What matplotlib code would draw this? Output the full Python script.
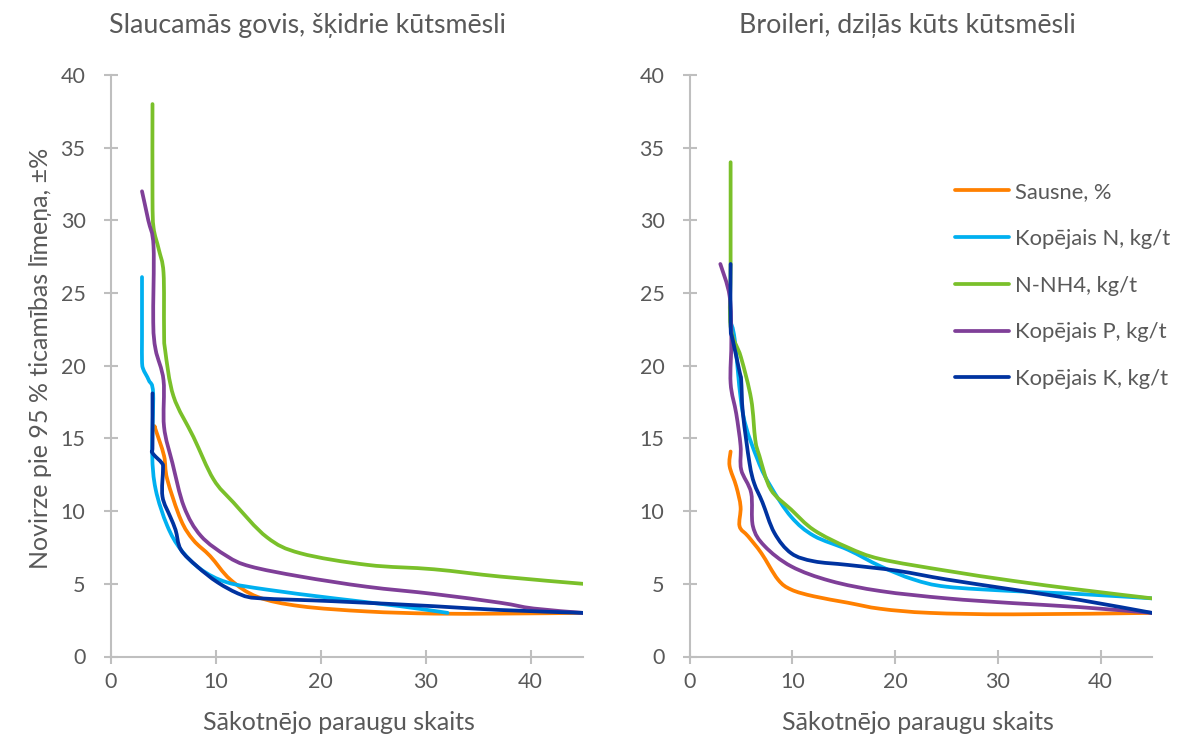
import matplotlib
matplotlib.use("Agg")
import matplotlib.pyplot as plt
from matplotlib.path import Path
from matplotlib.patches import PathPatch
from matplotlib.lines import Line2D
import numpy as np

plt.rcParams['font.family'] = ['Lato', 'DejaVu Sans']

series_names = ["Sausne, %", "Kopējais N, kg/t", "N-NH4, kg/t", "Kopējais P, kg/t", "Kopējais K, kg/t"]
colors = ["#FF8000", "#00B0F0", "#7AC02A", "#7F3F98", "#0033A0"]

panel_titles = ["Slaucamās govis, šķidrie kūtsmēsli", "Broileri, dziļās kūts kūtsmēsli"]
x_label = "Sākotnējo paraugu skaits"
y_label = "Novirze pie 95 % ticamības līmeņa, ±%"
x_ticks = [0, 10, 20, 30, 40]
y_ticks = [0, 5, 10, 15, 20, 25, 30, 35, 40]

# ---- Left panel: Slaucamās govis ----
L_sausne_x = [4.2, 4.3, 5.1, 5.4, 6.7, 7.9, 9.5, 11.4, 14.0, 18.1, 24.4, 30.8, 37.1, 45]
L_sausne_y = [15.8, 15.6, 13.8, 12.2, 9.4, 8.0, 6.9, 5.3, 4.1, 3.46, 3.1, 2.95, 2.95, 3.0]

L_N_x = [3.0, 3.0, 3.0, 3.1, 3.65, 4.06, 3.97, 4.3, 5.4, 6.7, 8.6, 11.1, 14.9, 21.3, 27.6, 32.1]
L_N_y = [26.1, 22.0, 20.4, 19.8, 19.0, 18.1, 14.0, 11.5, 9.0, 7.35, 6.0, 5.1, 4.6, 4.0, 3.46, 3.0]

L_NH4_x = [4.0, 4.0, 4.1, 4.6, 5.05, 5.1, 5.2, 6.0, 7.9, 9.8, 11.7, 14.9, 18.1, 24.5, 30.8, 37.1, 45]
L_NH4_y = [38.0, 31.6, 29.5, 28.0, 26.4, 22.5, 21.1, 17.9, 15.1, 12.2, 10.6, 8.2, 7.1, 6.3, 6.0, 5.5, 5.0]

L_P_x = [3.0, 3.6, 4.1, 4.07, 4.3, 5.05, 5.1, 5.9, 7.0, 8.6, 11.1, 13.3, 18.1, 24.4, 30.8, 37.1, 40.3, 45]
L_P_y = [32.0, 30.0, 28.2, 23.0, 21.1, 19.0, 15.8, 13.3, 10.3, 8.3, 6.9, 6.2, 5.5, 4.8, 4.3, 3.7, 3.3, 3.0]

L_K_x = [4.0, 4.0, 4.0, 4.9, 5.0, 4.95, 5.7, 6.2, 6.7, 8.25, 10.2, 12.4, 14.3, 21.3, 30.8, 37.1, 45]
L_K_y = [18.1, 14.5, 14.0, 13.3, 12.9, 11.0, 9.6, 8.7, 7.35, 6.2, 5.1, 4.26, 4.0, 3.8, 3.46, 3.2, 3.0]

# ---- Right panel: Broileri ----
R_sausne_x = [4.0, 3.9, 4.55, 4.97, 4.87, 5.7, 7.0, 8.6, 9.9, 12.1, 15.4, 18.6, 23.4, 31.5, 45]
R_sausne_y = [14.1, 13.1, 11.7, 10.3, 8.96, 8.27, 7.1, 5.3, 4.6, 4.14, 3.7, 3.28, 3.0, 2.9, 3.0]

R_N_x = [4.0, 4.4, 5.2, 6.65, 7.9, 9.9, 12.1, 15.4, 18.6, 21.8, 25.0, 31.5, 37.9, 45]
R_N_y = [23.0, 21.8, 16.7, 13.5, 11.7, 9.6, 8.3, 7.35, 6.2, 5.3, 4.8, 4.5, 4.3, 4.0]

R_NH4_x = [4.0, 4.0, 4.0, 5.0, 6.0, 6.4, 6.8, 7.9, 9.9, 12.1, 15.4, 18.6, 25.0, 31.5, 37.9, 45]
R_NH4_y = [34.0, 27.0, 22.7, 20.6, 17.7, 14.9, 13.8, 11.5, 10.1, 8.7, 7.5, 6.7, 5.9, 5.2, 4.6, 4.0]

R_P_x = [3.0, 3.9, 4.07, 4.0, 4.55, 4.97, 5.03, 6.0, 6.17, 7.3, 9.9, 13.7, 18.6, 25.0, 31.5, 37.9, 45]
R_P_y = [27.0, 24.8, 21.8, 18.8, 16.7, 14.5, 12.85, 11.25, 8.96, 7.6, 6.2, 5.2, 4.5, 4.0, 3.67, 3.4, 3.0]

R_K_x = [4.0, 4.0, 4.2, 4.9, 5.03, 5.2, 5.84, 6.3, 7.1, 8.26, 9.9, 12.1, 15.4, 20.2, 25.0, 31.5, 37.9, 45]
R_K_y = [27.0, 22.7, 21.8, 19.5, 19.0, 16.7, 13.3, 11.9, 10.6, 8.5, 7.1, 6.55, 6.3, 5.9, 5.3, 4.6, 3.9, 3.0]

left_series = [(L_sausne_x, L_sausne_y), (L_N_x, L_N_y), (L_NH4_x, L_NH4_y), (L_P_x, L_P_y), (L_K_x, L_K_y)]
right_series = [(R_sausne_x, R_sausne_y), (R_N_x, R_N_y), (R_NH4_x, R_NH4_y), (R_P_x, R_P_y), (R_K_x, R_K_y)]


def smooth_path(xs, ys):
    """Excel-like smoothed line: cubic Bezier through the given points."""
    P = np.column_stack([xs, ys]).astype(float)
    n = len(P)
    verts = [P[0]]
    codes = [Path.MOVETO]
    for i in range(n - 1):
        p0 = P[i - 1] if i > 0 else P[i]
        p1 = P[i]
        p2 = P[i + 1]
        p3 = P[i + 2] if i + 2 < n else P[i + 1]
        c1 = p1 + (p2 - p0) / 6.0
        c2 = p2 - (p3 - p1) / 6.0
        verts += [c1, c2, p2]
        codes += [Path.CURVE4] * 3
    return Path(verts, codes)


W, H = 1195, 740
fig = plt.figure(figsize=(W / 100, H / 100), dpi=100)

axis_col = "#BFBFBF"
text_col = "#595959"
LW = 2.7


def px_rect(x0, x1, ytop, ybot):
    return [x0 / W, 1 - ybot / H, (x1 - x0) / W, (ybot - ytop) / H]


axL = fig.add_axes(px_rect(110.5, 583, 75, 656.5))
axR = fig.add_axes(px_rect(689.5, 1152, 75, 656.5))

for ax, series in ((axL, left_series), (axR, right_series)):
    for (xs, ys), c in zip(series, colors):
        ax.add_patch(PathPatch(smooth_path(xs, ys), fill=False, edgecolor=c, lw=LW,
                               capstyle='round', joinstyle='round'))
    ax.set_xlim(0, 45)
    ax.set_ylim(0, 40)
    ax.set_xticks(x_ticks)
    ax.set_yticks(y_ticks)
    for s in ("top", "right"):
        ax.spines[s].set_visible(False)
    for s in ("left", "bottom"):
        ax.spines[s].set_color(axis_col)
        ax.spines[s].set_linewidth(1.5)
    ax.tick_params(direction='inout', length=10, width=1.5, color=axis_col,
                   labelcolor=text_col, labelsize=15.5)
    ax.tick_params(axis='y', pad=13)
    ax.tick_params(axis='x', pad=6)
    for sp in ax.spines.values():
        sp.set_clip_on(False)

fig.text(307 / W, 1 - 25 / H, panel_titles[0], ha='center', va='center', fontsize=19.3, color=text_col)
fig.text(907 / W, 1 - 25 / H, panel_titles[1], ha='center', va='center', fontsize=19.3, color=text_col)
fig.text(339 / W, 1 - 722 / H, x_label, ha='center', va='center', fontsize=18, color=text_col)
fig.text(918 / W, 1 - 722 / H, x_label, ha='center', va='center', fontsize=18, color=text_col)
fig.text(41 / W, 1 - 358 / H, y_label, ha='center', va='center', rotation=90, fontsize=18, color=text_col)

handles = [Line2D([], [], color=c, lw=LW, solid_capstyle='round') for c in colors]
leg = axR.legend(handles, series_names, loc='upper left',
                 bbox_to_anchor=((955 - 689.5) / (1152 - 689.5), (656.5 - 182) / (656.5 - 75)),
                 frameon=False, fontsize=15.8, labelcolor=text_col, handlelength=2.45,
                 handletextpad=0.3, labelspacing=1.22, borderaxespad=0, borderpad=0)

fig.savefig("out.png", dpi=100)
